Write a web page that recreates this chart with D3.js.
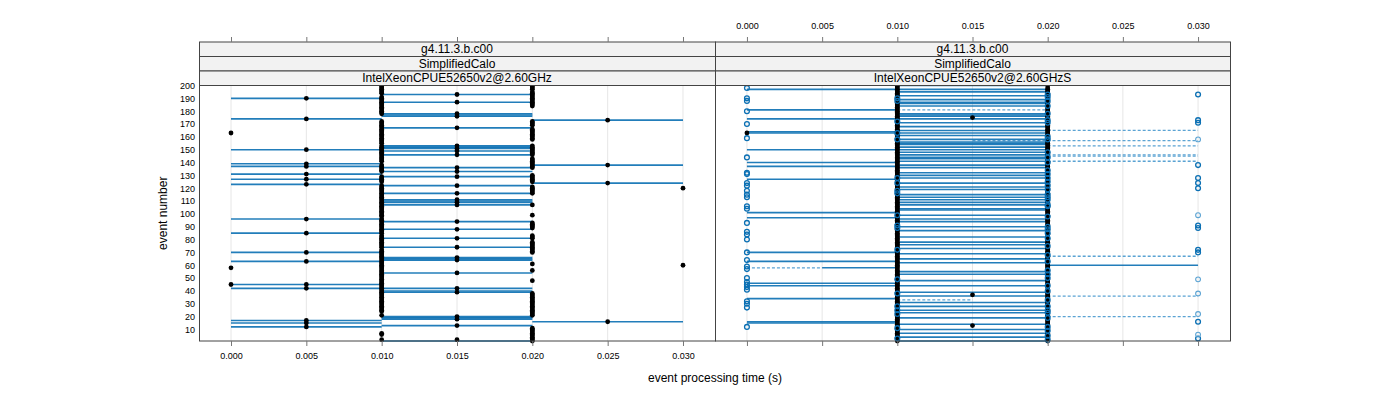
<!DOCTYPE html>
<html><head><meta charset="utf-8">
<script src="https://cdn.jsdelivr.net/npm/d3@7"></script>
<style>
body{margin:0;background:#fff}
svg{display:block}
text{font-family:"Liberation Sans",Arial,Helvetica,sans-serif;fill:#000}
</style>
</head><body>
<svg id="chart" width="1400" height="400"></svg>
<script>
// ---------------- data ----------------
const xTicks = [0, 0.005, 0.01, 0.015, 0.02, 0.025, 0.03];
const xTickLabels = ["0.000","0.005","0.010","0.015","0.020","0.025","0.030"];
const yTicks = [10,20,30,40,50,60,70,80,90,100,110,120,130,140,150,160,170,180,190,200];
const eventRange = [1, 200];
const timeRange = [0, 0.03];
const stripLeft = ["g4.11.3.b.c00","SimplifiedCalo","IntelXeonCPUE52650v2@2.60GHz"];
const stripRight = ["g4.11.3.b.c00","SimplifiedCalo","IntelXeonCPUE52650v2@2.60GHzS"];
const xTitle = "event processing time (s)";
const yTitle = "event number";

// left panel: events with a black point at each time value
const leftDot000 = [163, 58, 45];
const leftDot005 = [190, 174, 150, 139, 137, 131, 127, 123, 96, 85, 70, 63, 45, 42, 17, 15, 12];
const leftDot010 = [200,199,198,197,196,195,194,191,190,189,188,187,186,185,184,183,182,181,180,179,178,
  172,171,170,169,168,167,166,165,164,163,162,161,160,159,158,157,156,155,153,152,151,150,149,148,147,146,145,144,143,142,141,
  138,137,136,135,134,133,129,128,127,126,125,122,121,120,119,118,117,116,115,114,113,112,111,110,109,108,107,106,105,104,103,102,101,100,99,98,
  96,95,94,93,92,91,90,89,88,87,86,85,83,82,81,80,79,78,77,76,75,74,72,71,70,69,68,67,66,65,64,63,62,61,60,59,58,57,56,55,54,53,52,51,50,
  49,48,47,46,45,44,43,42,41,40,39,38,37,36,35,34,33,32,31,30,29,28,27,26,25,24,21,7,6,2];
const leftDot015 = [193, 187, 178, 176, 167, 153, 151, 149, 146, 136, 133, 129, 122, 116, 111, 109, 107, 94, 88, 81, 74, 66, 64, 54, 42, 39, 20, 18, 13, 2];
const leftDot020 = [200,199,198,197,195,194,193,192,191,190,189,188,187,186,185,184,172,171,170,169,166,165,164,163,162,161,160,159,158,
  153,152,151,150,149,148,147,146,143,142,141,140,139,138,137,136,130,129,128,127,126,125,121,120,119,118,117,116,107,99,
  93,92,91,90,89,83,82,81,78,77,76,75,74,73,72,71,70,61,56,48,38,37,36,35,34,33,32,31,30,29,28,27,26,25,24,23,22,21,
  11,10,9,8,7,6,5,4,3,2,1];
const leftDot025 = [173, 138, 124, 16];
const leftDot030 = [120, 60];
// left panel: events with a range line
const leftRange000to010 = [190, 174, 150, 139, 137, 131, 127, 123, 96, 85, 70, 63, 45, 42, 17, 15, 12];
const leftRange010to020 = [193, 187, 178, 177, 176, 167, 153, 152, 151, 149, 146, 136, 133, 129, 122, 116, 111, 110, 109, 107, 94, 88, 81, 74, 66, 65, 64, 54, 42, 40, 39, 20, 19, 18, 13, 1];
const leftRange020to030 = [173, 138, 124, 16];

// right panel: black points
const rightDot000 = [163];
const rightDot010 = [200,199,198,197,196,195,194,193,192,191,190,189,188,187,186,185,184,183,182,181,180,179,178,177,176,175,174,173,172,171,
  170,169,168,167,166,165,164,163,162,161,160,159,158,157,156,155,154,153,152,151,150,149,148,147,146,145,144,143,142,141,
  140,139,138,137,136,135,134,133,132,131,130,129,128,127,126,125,124,123,122,121,120,119,118,117,116,115,114,113,112,111,
  110,109,108,107,106,105,104,103,102,101,100,99,98,97,96,95,94,93,92,91,90,89,88,87,86,85,84,83,82,81,
  80,79,78,77,76,75,74,73,72,71,70,69,68,67,66,65,64,63,62,61,60,59,58,57,56,55,54,53,52,51,
  50,49,48,47,46,45,44,43,42,41,40,39,38,37,36,35,34,33,32,31,30,29,28,27,26,25,24,23,22,21,
  20,19,18,17,16,15,14,13,12,11,10,9,8,7,6,5,4,3,2,1];
const rightDot015 = [175, 37, 13];
const rightDot020 = [200,198,197,196,195,194,193,192,191,190,189,188,187,186,185,184,182,181,180,179,178,177,176,175,174,173,172,171,
  169,168,167,166,165,164,163,162,161,160,159,158,156,155,154,153,152,151,150,149,148,147,146,145,144,143,142,141,
  140,139,138,137,136,134,133,132,131,130,129,128,127,126,125,124,123,122,121,120,119,118,117,116,115,114,113,111,
  110,109,108,107,106,105,104,103,102,101,100,99,98,96,95,94,93,92,91,90,89,88,87,86,85,84,82,81,
  80,79,78,77,76,75,74,73,72,71,70,69,67,66,65,64,63,62,61,60,59,58,57,56,55,54,53,52,50,
  49,48,47,46,45,44,43,41,40,39,38,37,36,35,34,33,32,31,30,29,28,27,25,24,23,22,21,
  20,19,18,17,16,15,14,13,12,11,10,9,7,6,5,4,3,2,1];
// right panel: open circles (second series)
const rightCirc000 = [198, 190, 188, 180, 170, 159, 144, 132, 131, 124, 122, 118, 115, 113, 106, 104, 93, 86, 84, 80, 70, 64, 59, 57, 50, 47, 45, 43, 41, 32, 30, 27, 12];
const rightCirc010 = [190, 188, 172, 163, 158, 128, 124, 118, 116, 99, 91, 89, 72, 49, 38, 28, 25, 22, 11, 3];
const rightCirc020 = [193, 191, 188, 184, 178, 173, 171, 160, 158, 148, 144, 140, 134, 131, 128, 125, 122, 119, 115, 113, 111, 107, 106, 98, 90, 88, 85, 81, 75, 68, 63, 56, 53, 50, 44, 40, 33, 28, 25, 23, 19, 12, 9, 5, 2];
const rightCirc030 = [193, 173, 171, 138, 128, 124, 120, 91, 89, 72, 70, 16, 3];
const rightCirc030Faint = [158, 99, 49, 38, 22, 6];
// right panel: range lines
const rightRange000to010 = [197, 181, 174, 164, 163, 150, 140, 137, 127, 101, 97, 70, 63, 46, 44, 34, 16, 15];
const rightRange005to010 = [58];
const rightRange010to020 = [200, 197, 195, 192, 189, 187, 186, 184, 178, 177, 176, 174, 171, 168, 165, 163, 161, 158, 156, 155, 154, 152, 150, 148, 146,
  144, 143, 141, 138, 136, 132, 130, 128, 124, 121, 119, 115, 113, 111, 109, 107, 104, 103, 99, 96, 94, 90, 87, 82, 78, 76, 73, 69,
  65, 62, 55, 53, 48, 44, 39, 36, 31, 28, 25, 23, 19, 14, 10, 7, 4, 1];
const rightRange020to030 = [60];
const rightDashed000to005 = [58];
const rightDashed010to015 = [33];
const rightDashed010to020 = [181];
const rightDashed015to030 = [157];
const rightDashed020to030 = [165, 153, 146, 145, 141, 67, 36, 20];

// ---------------- layout ----------------
const svg = d3.select("#chart");
const plotTop = 85.5, plotBottom = 341;
const panels = [
  {x0: 199, x1: 715, strip: stripLeft},
  {x0: 715, x1: 1230, strip: stripRight}
];
const stripTop = 42, stripH = (plotTop - stripTop) / 3;
const pad = (timeRange[1] - timeRange[0]) * 0.0708;

const y = d3.scaleLinear().domain(eventRange).range([plotBottom, plotTop]);

const blue = "#0a6fb3";
const blueFaint = "#5ba3d3";

function pts(events, t) { return events.map(e => ({e, t})); }
function segs(events, lo, hi) { return events.map(e => ({e, lo, hi})); }

panels.forEach(p => {
  p.x = d3.scaleLinear().domain([timeRange[0] - pad, timeRange[1] + pad]).range([p.x0, p.x1]);
});

const L = panels[0], R = panels[1];
L.segments = [].concat(segs(leftRange000to010, 0, 0.01), segs(leftRange010to020, 0.01, 0.02), segs(leftRange020to030, 0.02, 0.03));
L.dashed = [];
L.dots = [].concat(pts(leftDot000,0), pts(leftDot005,0.005), pts(leftDot010,0.01), pts(leftDot015,0.015), pts(leftDot020,0.02), pts(leftDot025,0.025), pts(leftDot030,0.03));
L.circles = []; L.circlesFaint = [];

R.segments = [].concat(segs(rightRange000to010, 0, 0.01), segs(rightRange005to010, 0.005, 0.01), segs(rightRange010to020, 0.01, 0.02), segs(rightRange020to030, 0.02, 0.03));
R.dashed = [].concat(segs(rightDashed000to005, 0, 0.005), segs(rightDashed010to015, 0.01, 0.015), segs(rightDashed010to020, 0.01, 0.02), segs(rightDashed015to030, 0.015, 0.03), segs(rightDashed020to030, 0.02, 0.03));
R.dots = [].concat(pts(rightDot000,0), pts(rightDot010,0.01), pts(rightDot015,0.015), pts(rightDot020,0.02));
R.circles = [].concat(pts(rightCirc000,0), pts(rightCirc010,0.01), pts(rightCirc020,0.02), pts(rightCirc030,0.03));
R.circlesFaint = pts(rightCirc030Faint, 0.03);

panels.forEach((p, i) => {
  const g = svg.append("g");
  const x = p.x;
  // grid
  g.selectAll(".grid").data(xTicks).join("line")
    .attr("x1", d => x(d)).attr("x2", d => x(d))
    .attr("y1", plotTop).attr("y2", plotBottom)
    .attr("stroke", "#e6e6e6").attr("stroke-width", 1);
  // dashed segments
  g.selectAll(".dash").data(p.dashed).join("line")
    .attr("x1", d => x(d.lo)).attr("x2", d => x(d.hi))
    .attr("y1", d => y(d.e)).attr("y2", d => y(d.e))
    .attr("stroke", blueFaint).attr("stroke-width", 1.3).attr("stroke-dasharray", "3,2");
  // solid segments
  g.selectAll(".seg").data(p.segments).join("line")
    .attr("x1", d => x(d.lo)).attr("x2", d => x(d.hi))
    .attr("y1", d => y(d.e)).attr("y2", d => y(d.e))
    .attr("stroke", blue).attr("stroke-width", 1.6).attr("stroke-opacity", 0.9);
  // black points
  g.selectAll(".dot").data(p.dots).join("circle")
    .attr("cx", d => x(d.t)).attr("cy", d => y(d.e)).attr("r", 2.4)
    .attr("fill", "#000");
  // open circles
  g.selectAll(".circ").data(p.circles).join("circle")
    .attr("cx", d => x(d.t)).attr("cy", d => y(d.e)).attr("r", 2.4)
    .attr("fill", "none").attr("stroke", blue).attr("stroke-width", 1.3);
  g.selectAll(".circf").data(p.circlesFaint).join("circle")
    .attr("cx", d => x(d.t)).attr("cy", d => y(d.e)).attr("r", 2.4)
    .attr("fill", "none").attr("stroke", blueFaint).attr("stroke-width", 1.1);
  // frame
  svg.append("rect").attr("x", p.x0 + 0.5).attr("y", plotTop).attr("width", p.x1 - p.x0).attr("height", plotBottom - plotTop)
    .attr("fill", "none").attr("stroke", "#444").attr("stroke-width", 1);
  // strips
  p.strip.forEach((s, k) => {
    const sy = stripTop + k * stripH;
    svg.append("rect").attr("x", p.x0 + 0.5).attr("y", sy).attr("width", p.x1 - p.x0).attr("height", stripH)
      .attr("fill", "#f2f2f2").attr("stroke", "#444").attr("stroke-width", 1);
    svg.append("text").attr("x", (p.x0 + p.x1) / 2).attr("y", sy + stripH / 2 + 4.2)
      .attr("text-anchor", "middle").attr("font-size", 12).text(s);
  });
  // axes
  const top = d3.axisTop(x).tickValues(xTicks).tickSize(5).tickPadding(8)
    .tickFormat(i === 1 ? ((d, j) => xTickLabels[j]) : () => "");
  const ta = svg.append("g").attr("transform", `translate(0,${stripTop})`).call(top);
  const bot = d3.axisBottom(x).tickValues(xTicks).tickSize(5).tickPadding(7)
    .tickFormat(i === 0 ? ((d, j) => xTickLabels[j]) : () => "");
  const ba = svg.append("g").attr("transform", `translate(0,${plotBottom})`).call(bot);
  [ta, ba].forEach(a => {
    a.select(".domain").remove();
    a.selectAll("line").attr("stroke", "#777");
    a.selectAll("text").attr("font-size", 9).attr("font-family", "Liberation Sans, Arial, sans-serif");
  });
});

// y axis
const ya = svg.append("g").attr("transform", `translate(${L.x0},0)`)
  .call(d3.axisLeft(y).tickValues(yTicks).tickSize(0).tickPadding(4));
ya.select(".domain").remove();
ya.selectAll("text").attr("font-size", 9).attr("font-family", "Liberation Sans, Arial, sans-serif");

// titles
svg.append("text").attr("x", 715).attr("y", 382).attr("text-anchor", "middle").attr("font-size", 12).text(xTitle);
svg.append("text").attr("transform", `translate(167,${(plotTop + plotBottom) / 2}) rotate(-90)`)
  .attr("text-anchor", "middle").attr("font-size", 12).text(yTitle);
</script>
</body></html>
